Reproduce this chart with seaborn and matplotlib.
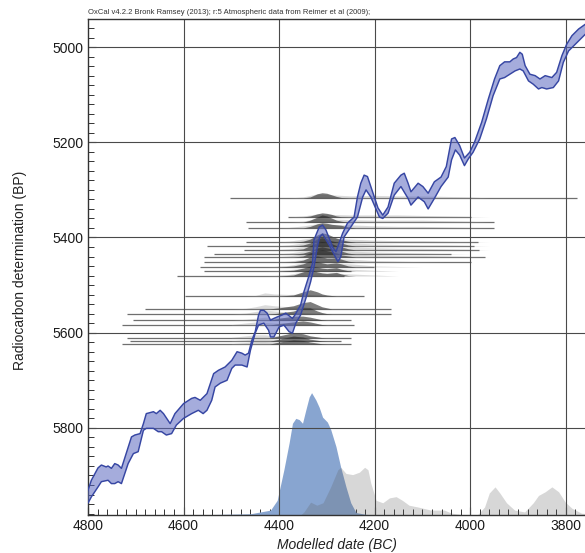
import numpy as np
import matplotlib
matplotlib.use("Agg")
import matplotlib.pyplot as plt
from matplotlib.ticker import MultipleLocator, FixedLocator
import seaborn as sns

# ---------------- data ----------------
# calibration curve band (years BC, radiocarbon BP): upper and lower edges
CURVE_TOP_BC = [4800, 4793, 4779, 4772, 4762, 4758, 4751, 4744, 4737, 4730, 4709, 4702, 4691, 4684,
                4678, 4663, 4657, 4649, 4642, 4628, 4618, 4600, 4583, 4576, 4565, 4551, 4537, 4527,
                4513, 4499, 4488, 4478, 4471, 4464, 4457, 4450, 4443, 4439, 4432, 4425, 4418, 4411,
                4404, 4394, 4386, 4372, 4367, 4355, 4348, 4337, 4330, 4327, 4316, 4309, 4302, 4288,
                4281, 4267, 4257, 4243, 4236, 4229, 4222, 4215, 4208, 4193, 4183, 4172, 4159, 4145,
                4138, 4130, 4124, 4109, 4099, 4088, 4075, 4061, 4050, 4039, 4032, 4022, 4012, 4001,
                3991, 3976, 3962, 3949, 3938, 3928, 3917, 3910, 3903, 3896, 3891, 3885, 3875, 3864,
                3854, 3843, 3829, 3819, 3808, 3798, 3787, 3773, 3759, 3754]
CURVE_TOP_BP = [5931, 5910, 5884, 5878, 5882, 5880, 5885, 5875, 5878, 5885, 5819, 5815, 5812, 5791,
                5770, 5766, 5770, 5763, 5770, 5791, 5770, 5749, 5738, 5736, 5742, 5728, 5686, 5679,
                5672, 5658, 5640, 5643, 5647, 5643, 5616, 5598, 5563, 5553, 5553, 5559, 5574, 5570,
                5567, 5563, 5559, 5570, 5563, 5542, 5514, 5479, 5454, 5405, 5378, 5374, 5384, 5420,
                5430, 5391, 5370, 5357, 5315, 5286, 5269, 5272, 5293, 5338, 5353, 5336, 5286, 5269,
                5265, 5286, 5304, 5286, 5293, 5307, 5283, 5273, 5251, 5193, 5190, 5207, 5233, 5221,
                5200, 5158, 5109, 5067, 5039, 5031, 5031, 5025, 5022, 5011, 5015, 5039, 5057, 5060,
                5067, 5060, 5064, 5053, 5018, 4994, 4976, 4962, 4952, 4947]
CURVE_BOT_BC = [4800, 4793, 4779, 4772, 4758, 4751, 4744, 4737, 4730, 4716, 4705, 4695, 4684, 4678,
                4663, 4653, 4646, 4636, 4625, 4615, 4600, 4583, 4569, 4559, 4551, 4541, 4534, 4523,
                4509, 4499, 4492, 4478, 4467, 4460, 4450, 4443, 4432, 4422, 4418, 4411, 4400, 4390,
                4379, 4372, 4365, 4355, 4344, 4334, 4327, 4320, 4315, 4309, 4295, 4277, 4271, 4264,
                4250, 4236, 4225, 4218, 4208, 4190, 4183, 4172, 4159, 4145, 4130, 4124, 4109, 4096,
                4088, 4075, 4061, 4046, 4039, 4031, 4022, 4012, 4004, 3994, 3980, 3966, 3952, 3938,
                3928, 3917, 3906, 3896, 3889, 3878, 3868, 3857, 3850, 3840, 3826, 3815, 3805, 3794,
                3780, 3766, 3754]
CURVE_BOT_BP = [5958, 5945, 5924, 5913, 5910, 5917, 5917, 5913, 5917, 5875, 5854, 5850, 5805, 5801,
                5801, 5808, 5808, 5815, 5812, 5794, 5780, 5770, 5763, 5770, 5763, 5742, 5714, 5706,
                5700, 5675, 5668, 5668, 5672, 5637, 5601, 5584, 5580, 5595, 5609, 5609, 5588, 5584,
                5598, 5601, 5580, 5563, 5528, 5493, 5462, 5420, 5399, 5393, 5416, 5451, 5441, 5399,
                5378, 5357, 5315, 5300, 5315, 5357, 5360, 5349, 5311, 5293, 5318, 5332, 5315, 5325,
                5340, 5318, 5293, 5273, 5237, 5216, 5227, 5249, 5235, 5221, 5193, 5151, 5102, 5067,
                5064, 5057, 5050, 5046, 5050, 5071, 5078, 5088, 5085, 5088, 5085, 5071, 5032, 5008,
                4994, 4980, 4968]

# individual radiocarbon dates: BP value and plotted range (BC)
RIDGE_BP = [5317, 5357, 5368, 5380, 5410, 5418, 5426, 5435, 5441, 5452, 5462, 5471, 5481,
            5523, 5550, 5561, 5574, 5584, 5611, 5618, 5624]
RIDGE_FROM = [4502, 4382, 4470, 4466, 4470, 4550, 4474, 4537, 4558, 4558, 4565, 4558, 4613,
              4596, 4680, 4718, 4705, 4729, 4718, 4712, 4729]
RIDGE_TO = [3777, 3998, 3951, 3951, 3983, 3991, 3981, 4040, 3970, 3998, 4201, 4250, 4264,
            4222, 4166, 4166, 4250, 4243, 4250, 4271, 4250]

# posterior (dark) probability profiles of each date
DARK_YEARS = [4420, 4400, 4370, 4350, 4335, 4320, 4310, 4300, 4290, 4280, 4270, 4255, 4240]
DARK_H = [
    [0, 0, 0, 0, 1, 4, 5, 4.5, 3, 1.5, 0.5, 0, 0],
    [0, 0, 0, 0, 1, 3, 4, 3.5, 2.5, 1, 0.3, 0, 0],
    [0, 0, 0, 0, 2, 5, 7, 6, 4, 2, 1, 0, 0],
    [0, 0, 0, 0, 1.5, 4, 5, 4.5, 3.5, 3, 2.5, 1, 0],
    [0, 0, 0, 1, 3, 7, 9, 8, 6, 4, 2.5, 1, 0],
    [0, 0, 0, 1, 3, 7, 8, 7, 5, 4, 3, 1, 0],
    [0, 0, 0, 1, 4, 7, 8, 7, 6, 4, 3, 1, 0],
    [0, 0, 0, 1, 3, 6, 7, 6, 5, 4, 3, 1, 0],
    [0, 0, 0, 1, 4, 6, 7, 6, 5, 4, 2, 1, 0],
    [0, 0, 0.5, 2, 5, 6, 5, 4, 4, 4.5, 3, 1, 0],
    [0, 0, 1, 3, 6, 5, 4, 3, 3.5, 4, 3, 1, 0],
    [0, 0, 1, 3, 5, 4, 3, 2.5, 3, 3.5, 2, 0.5, 0],
    [0, 0, 1, 4, 6, 4, 3, 2.5, 3, 3.5, 2, 0.5, 0],
    [0, 0, 1, 4, 6, 4, 2, 1, 0.5, 0, 0, 0, 0],
    [0, 1, 3, 6, 7, 4, 2, 1, 0, 0, 0, 0, 0],
    [0, 1, 3, 6, 6, 3, 1.5, 0.5, 0, 0, 0, 0, 0],
    [0, 2, 4, 4, 3, 1.5, 0.5, 0, 0, 0, 0, 0, 0],
    [0, 1.5, 3, 4, 3, 1.5, 0.5, 0, 0, 0, 0, 0, 0],
    [0, 2, 5, 4, 2, 1, 0.3, 0, 0, 0, 0, 0, 0],
    [0, 2, 5, 4, 2, 1, 0.3, 0, 0, 0, 0, 0, 0],
    [0, 2, 4, 3.5, 2, 1, 0.3, 0, 0, 0, 0, 0, 0],
]
# likelihood (light) profiles of each date
LIGHT_YEARS = [4500, 4470, 4450, 4430, 4410, 4380, 4350, 4320, 4290, 4250, 4200, 4150, 4100, 4050, 4000, 3960]
LIGHT_H = [
    [0, 0, 0, 0, 0, 0, 1, 4, 3, 2, 2.5, 2, 2, 1.5, 1, 0],
    [0, 0, 0, 0, 0, 0, 1, 3, 2.5, 2, 2, 2, 1.5, 1, 0.5, 0],
    [0, 0, 0, 0, 0, 0, 1, 4, 3, 2.5, 2, 2, 2, 1.5, 1, 0],
    [0, 0, 0, 0, 0, 0.5, 2, 4, 3.5, 3, 2, 1.5, 1.5, 1, 0.5, 0],
    [0, 0, 0, 0, 0, 1, 3, 5, 4, 3, 2, 1.5, 1.5, 1, 0.5, 0],
    [0, 0, 0, 0, 0, 1, 3, 5, 4, 3, 2, 1.5, 1, 1, 0.5, 0],
    [0, 0, 0, 0, 0, 1, 3, 5, 4, 3, 2, 1.5, 1.5, 1, 0.5, 0],
    [0, 0, 0, 0, 0, 1, 3, 5, 4, 3, 2, 1.5, 1, 0.5, 0, 0],
    [0, 0, 0, 0, 0, 1, 3, 5, 4, 3, 2, 1.5, 1.5, 1, 0.5, 0],
    [0, 0, 0, 0, 0, 1, 3, 4, 4, 3, 1.5, 1, 0.5, 0, 0, 0],
    [0, 0, 0, 0, 0.5, 1.5, 4, 4, 4, 3, 1, 0.5, 0, 0, 0, 0],
    [0, 0, 0, 0, 0.5, 1.5, 3, 3, 3, 2, 1, 0, 0, 0, 0, 0],
    [0, 0, 0, 0, 0.5, 1.5, 4, 3, 3, 2, 1, 0, 0, 0, 0, 0],
    [0, 0, 0.5, 3, 2, 1.5, 2, 1, 0.5, 0, 0, 0, 0, 0, 0, 0],
    [0, 0.5, 2, 4, 3, 2, 2, 1, 0, 0, 0, 0, 0, 0, 0, 0],
    [0, 1, 2.5, 4, 3, 2, 1.5, 0.5, 0, 0, 0, 0, 0, 0, 0, 0],
    [0, 1, 2, 3, 2.5, 2, 1, 0.5, 0, 0, 0, 0, 0, 0, 0, 0],
    [0.5, 2, 3, 2.5, 2, 1.5, 1, 0.5, 0, 0, 0, 0, 0, 0, 0, 0],
    [0.5, 2, 3, 3, 2, 1.5, 1, 0.5, 0, 0, 0, 0, 0, 0, 0, 0],
    [0.5, 1.5, 2.5, 2.5, 2, 1.5, 1, 0, 0, 0, 0, 0, 0, 0, 0, 0],
    [0.5, 1.5, 2.5, 2.5, 2, 1.5, 1, 0, 0, 0, 0, 0, 0, 0, 0, 0],
]

# modelled (blue) distribution and unmodelled (grey) distribution, relative probability
SUM_BC = [4540, 4460, 4418, 4404, 4390, 4379, 4372, 4365, 4358, 4351, 4344, 4337, 4332, 4323,
          4316, 4309, 4299, 4292, 4281, 4271, 4260, 4250, 4239, 4218, 4197]
SUM_P = [0.004, 0.01, 0.04, 0.12, 0.37, 0.59, 0.75, 0.79, 0.78, 0.75, 0.86, 0.965, 1.0, 0.94,
         0.88, 0.80, 0.76, 0.70, 0.56, 0.39, 0.23, 0.10, 0.02, 0.005, 0.0]
GREY_BC = [4355, 4348, 4334, 4321, 4308, 4292, 4277, 4271, 4260, 4246, 4232, 4221, 4214, 4208,
           4197, 4183, 4169, 4155, 4142, 4128, 4109, 4082, 4054, 4039, 4012, 3985, 3970, 3960,
           3948, 3938, 3924, 3907, 3886, 3868, 3857, 3843, 3829, 3815, 3801, 3787, 3767, 3754]
GREY_P = [0.0, 0.025, 0.105, 0.08, 0.10, 0.23, 0.37, 0.39, 0.34, 0.33, 0.35, 0.39, 0.37, 0.26,
          0.12, 0.10, 0.14, 0.15, 0.12, 0.08, 0.065, 0.04, 0.04, 0.015, 0.0, 0.0, 0.065, 0.18,
          0.23, 0.18, 0.10, 0.04, 0.025, 0.10, 0.16, 0.19, 0.23, 0.19, 0.105, 0.055, 0.015, 0.01]

X_TICKS = [4800, 4600, 4400, 4200, 4000, 3800]
Y_TICKS = [5000, 5200, 5400, 5600, 5800]
TITLE = "OxCal v4.2.2 Bronk Ramsey (2013); r:5 Atmospheric data from Reimer et al (2009);"
XLABEL = "Modelled date (BC)"
YLABEL = "Radiocarbon determination (BP)"

# ---------------- drawing ----------------
sns.set_theme(style="white")
plt.rcParams['font.family'] = ['Liberation Sans', 'DejaVu Sans']

fig = plt.figure(figsize=(5.85, 5.53), dpi=100)
ax = fig.add_axes([88 / 585, 1 - 515 / 553, 1.0 - 88 / 585 + 0.003, (515 - 19) / 553])

Y_BOTTOM, Y_TOP = 5983, 4941
ax.set_xlim(4800, 3756)
ax.set_ylim(Y_BOTTOM, Y_TOP)

RIDGE_SCALE = 2.2   # BP units per profile unit
SUM_SCALE = 257     # BP units for peak of summed distribution

# bottom distributions
ax.fill_between(SUM_BC, Y_BOTTOM, Y_BOTTOM - np.array(SUM_P) * SUM_SCALE,
                color="#88a5d0", lw=0, zorder=1)
ax.fill_between(GREY_BC, Y_BOTTOM, Y_BOTTOM - np.array(GREY_P) * SUM_SCALE,
                color="#5a5a5a", alpha=0.24, lw=0, zorder=1.1)

# ridges
for i, bp in enumerate(RIDGE_BP):
    ax.hlines(bp, RIDGE_FROM[i], RIDGE_TO[i], color="#6f6f6f", lw=0.9, zorder=1.2)
    lh = np.array(LIGHT_H[i]) * RIDGE_SCALE
    ax.fill_between(LIGHT_YEARS, bp, bp - lh, color="#9a9a9a", alpha=0.35, lw=0, zorder=1.3)
    dh = np.array(DARK_H[i]) * RIDGE_SCALE
    ax.fill_between(DARK_YEARS, bp, bp - dh, color="#262626", alpha=0.6, lw=0, zorder=1.4)

# grid
for xv in X_TICKS[1:]:
    ax.axvline(xv, color="#4a4a4a", lw=0.8, zorder=2)
for yv in Y_TICKS:
    ax.axhline(yv, color="#4a4a4a", lw=0.8, zorder=2)

# calibration band
band_x = CURVE_TOP_BC + CURVE_BOT_BC[::-1]
band_y = CURVE_TOP_BP + CURVE_BOT_BP[::-1]
ax.fill(band_x, band_y, color="#5b68c0", alpha=0.55, lw=0, zorder=3)
for xs, ys in [(CURVE_TOP_BC, CURVE_TOP_BP), (CURVE_BOT_BC, CURVE_BOT_BP)]:
    sns.lineplot(x=xs, y=ys, sort=False, estimator=None, color="#3646a3", lw=1.05,
                 ax=ax, zorder=4, solid_joinstyle="round")

# axes styling
ax.xaxis.set_major_locator(FixedLocator(X_TICKS))
ax.yaxis.set_major_locator(FixedLocator(Y_TICKS))
ax.xaxis.set_minor_locator(MultipleLocator(20))
ax.yaxis.set_minor_locator(MultipleLocator(20))
ax.tick_params(axis="both", which="both", direction="in", colors="#333333",
               labelcolor="#1a1a1a", labelsize=10)
ax.tick_params(which="minor", length=4, width=0.7, bottom=True, left=True)
ax.tick_params(which="major", length=6, width=0.8, bottom=True, left=True, pad=3)
for s in ["left", "bottom", "top"]:
    ax.spines[s].set_visible(True)
    ax.spines[s].set_color("#333333")
    ax.spines[s].set_linewidth(1.0)
ax.spines["right"].set_visible(False)
ax.set_xlabel("")
ax.set_ylabel("")
ax.grid(False)

fig.text(88 / 585, 1 - 13 / 553, TITLE, fontsize=5.5, color="#333333", va="center", ha="left")
fig.text(337 / 585, 1 - 545 / 553, XLABEL, fontsize=10, style="italic", color="#222222",
         ha="center", va="center")
fig.text(20 / 585, 1 - 270 / 553, YLABEL, fontsize=10, rotation=90, color="#222222",
         ha="center", va="center")

fig.savefig("out.png", dpi=100)
